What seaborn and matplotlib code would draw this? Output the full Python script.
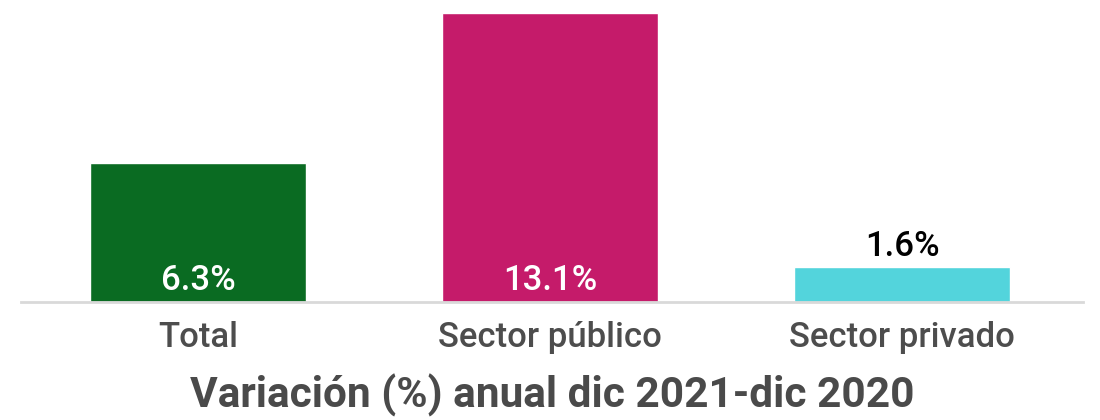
import seaborn as sns
import matplotlib.pyplot as plt
import pandas as pd

categories = ["Total", "Sector público", "Sector privado"]
values = [6.3, 13.1, 1.6]
labels = ["6.3%", "13.1%", "1.6%"]
colors = ["#0a6b22", "#c51b6a", "#53d4dc"]
title = "Variación (%) anual dic 2021-dic 2020"

sns.set_style("white")
plt.rcParams["font.family"] = ["Roboto", "DejaVu Sans"]

df = pd.DataFrame({"categoria": categories, "valor": values})

fig = plt.figure(figsize=(11, 4.2), dpi=100)
ax = fig.add_axes([21 / 1100, 118 / 420, 1062 / 1100, 289 / 420])
sns.barplot(data=df, x="categoria", y="valor", hue="categoria", palette=colors,
            width=0.615, saturation=1, legend=False, ax=ax)
ax.set_xlim(-0.503, 2.514)
ax.set_ylim(0, max(values))

for i, (v, lab) in enumerate(zip(values, labels)):
    if v > 4:
        ax.annotate(lab, (i, 0), xytext=(0, 3.5), textcoords="offset points",
                    ha="center", va="bottom", color="white", fontsize=25,
                    fontweight="medium")
    else:
        ax.annotate(lab, (i, v), xytext=(0, 3), textcoords="offset points",
                    ha="center", va="bottom", color="black", fontsize=25,
                    fontweight="medium")

for s in ["top", "right", "left"]:
    ax.spines[s].set_visible(False)
ax.spines["bottom"].set_color("#d9d9d9")
ax.spines["bottom"].set_linewidth(2)
ax.set_yticks([])
ax.set_ylabel("")
ax.tick_params(axis="x", length=0, labelsize=25, labelcolor="#4d4d4d", pad=14)
for t in ax.get_xticklabels():
    t.set_fontweight("medium")
ax.set_xlabel(title, fontsize=30.5, fontweight="bold", color="#4a4a4a", labelpad=14)

plt.savefig("out.png", dpi=100)
plt.close()
